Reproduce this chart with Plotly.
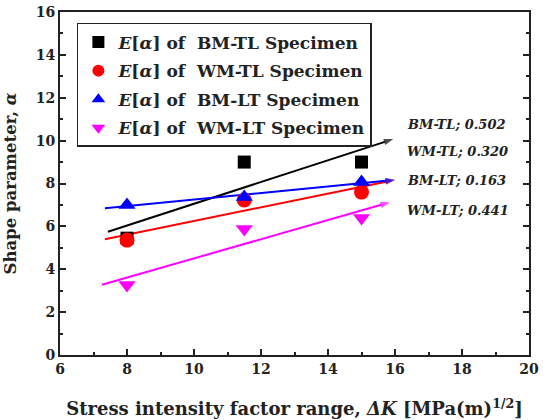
import numpy as np
import plotly.graph_objects as go

# Data
dK = [8.0, 11.5, 15.0]
bm_tl = [5.45, 9.0, 9.0]
wm_tl = [5.36, 7.23, 7.6]
bm_lt = [7.0, 7.37, 8.07]
wm_lt = [3.26, 5.88, 6.39]
series_names = ["BM-TL", "WM-TL", "BM-LT", "WM-LT"]
slope_labels = ["BM-TL; 0.502", "WM-TL; 0.320", "BM-LT; 0.163", "WM-LT; 0.441"]
label_y = [10.73, 9.47, 8.12, 6.76]
fit_start = [7.43, 7.34, 7.34, 7.25]
fit_end = [15.95, 16.0, 16.0, 15.85]

colors = ["#000000", "#FF0000", "#0000FF", "#FF00FF"]
symbols = ["square", "circle", "triangle-up", "triangle-down"]
sizes = [13, 15, 15, 15]
values = [bm_tl, wm_tl, bm_lt, wm_lt]

FONT = "DejaVu Serif, serif"

fig = go.Figure()

# fit lines with arrows
for i, ys in enumerate(values):
    k, b = np.polyfit(dK, ys, 1)
    xs = [fit_start[i], fit_end[i]]
    yl = [k * x + b for x in xs]
    fig.add_trace(go.Scatter(
        x=xs, y=yl, mode="lines+markers",
        line=dict(color=colors[i], width=2),
        marker=dict(symbol=["circle", "arrow"], size=[0, 10], color=colors[i],
                    angleref="previous", line=dict(width=0)),
        showlegend=False, hoverinfo="skip"))

# data points
for i, ys in enumerate(values):
    fig.add_trace(go.Scatter(
        x=dK, y=ys, mode="markers",
        marker=dict(symbol=symbols[i], size=sizes[i], color=colors[i], line=dict(width=0)),
        name=f"<b><i>E</i>[<i>α</i>] of  {series_names[i]} Specimen</b>",
        legendgroup=f"g{i}", showlegend=True))

for i, t in enumerate(slope_labels):
    fig.add_annotation(x=16.3, y=label_y[i], xref="x", yref="y", text=f"<b><i>{t}</i></b>",
                       showarrow=False, xanchor="left", yanchor="middle",
                       font=dict(family=FONT, size=13, color="#222"))

axis_common = dict(
    showline=True, linecolor="#222", linewidth=2, ticks="inside", ticklen=6, tickwidth=1.5,
    tickcolor="#222", showgrid=False, zeroline=False, automargin=False,
    tickfont=dict(family=FONT, size=14, color="#222", weight="bold"),
    minor=dict(ticks="inside", ticklen=3, tickwidth=1.5, tickcolor="#222", dtick=1),
)

fig.update_xaxes(range=[6, 20], dtick=2, mirror=True,
                 title=dict(text="<b>Stress intensity factor range, <i>ΔK</i> [MPa(m)<sup>1/2</sup>]</b>",
                            font=dict(family=FONT, size=18, color="#222"), standoff=27),
                 **axis_common)
fig.update_yaxes(range=[0, 16], dtick=2, mirror="ticks",
                 title=dict(text="<b>Shape parameter, <i>α</i></b>",
                            font=dict(family=FONT, size=16.5, color="#222"), standoff=15),
                 **axis_common)

fig.update_layout(
    width=547, height=420,
    margin=dict(l=60, r=18, t=12, b=65),
    paper_bgcolor="white", plot_bgcolor="white",
    legend=dict(x=0.036, y=0.968, xanchor="left", yanchor="top",
                bordercolor="#222", borderwidth=1.5, bgcolor="white",
                font=dict(family=FONT, size=17, color="#222"),
                tracegroupgap=3.5, itemsizing="constant"),
)

fig.write_html("out.html")
